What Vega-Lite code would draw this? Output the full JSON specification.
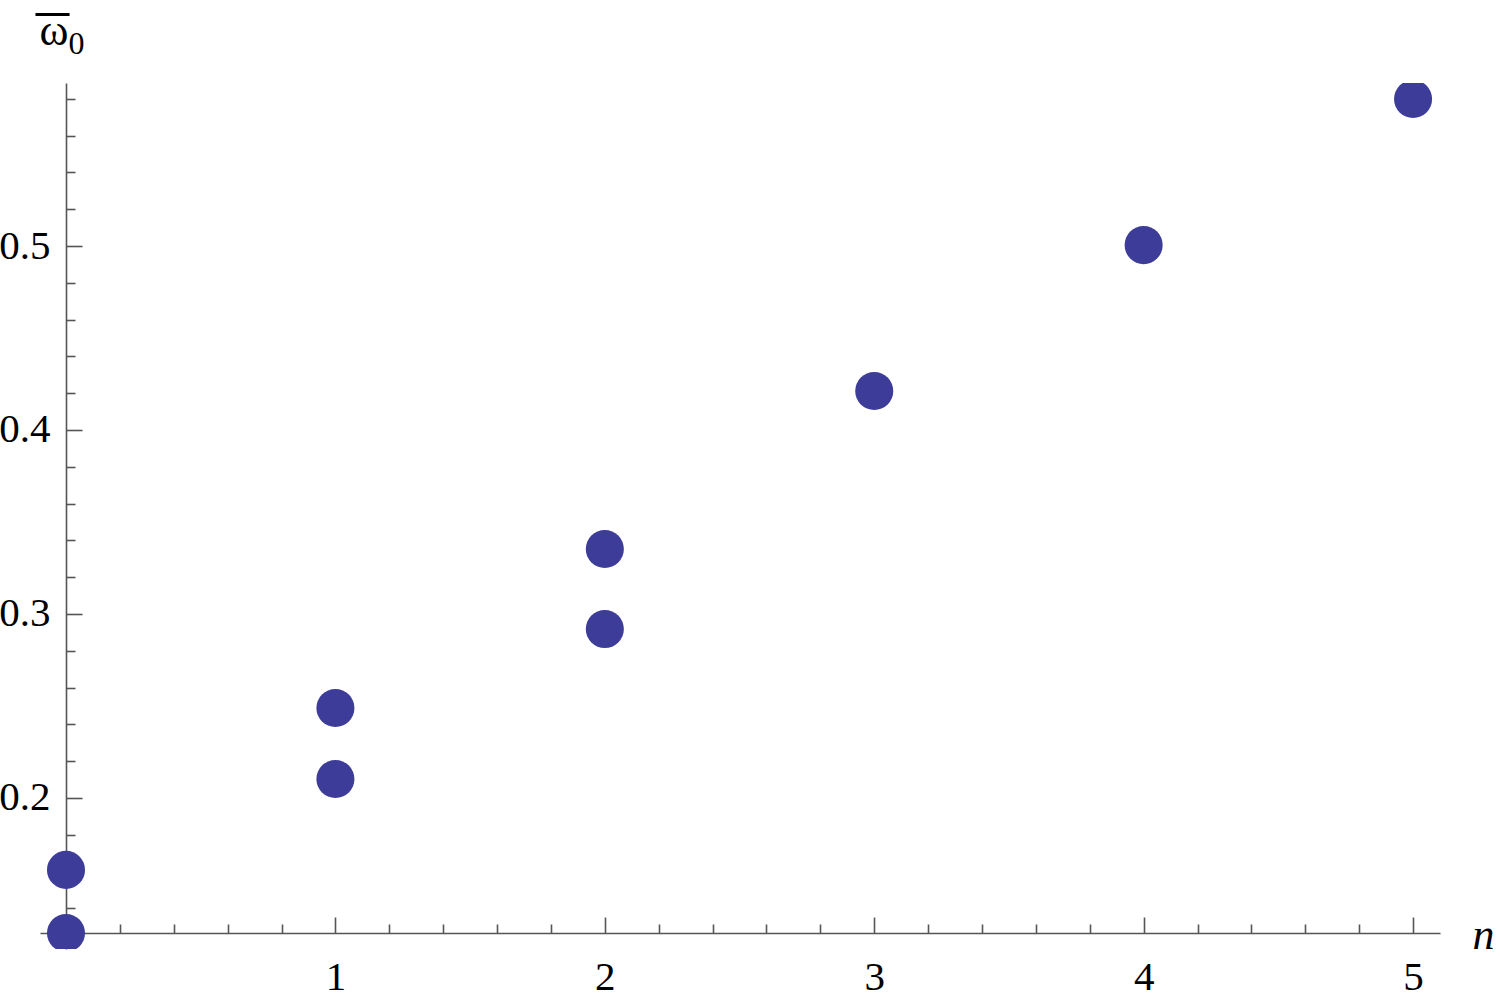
{
  "$schema": "https://vega.github.io/schema/vega-lite/v6.json",
  "width": 1400,
  "height": 866,
  "autosize": {"type": "none"},
  "padding": {"left": 40, "top": 83, "right": 60, "bottom": 51},
  "background": "white",
  "config": {
    "view": {"stroke": null},
    "axis": {
      "grid": false,
      "domainColor": "#555555",
      "tickColor": "#555555",
      "domainWidth": 1.6,
      "tickWidth": 1.6,
      "labelFont": "Liberation Serif",
      "labelFontSize": 41,
      "labelColor": "black",
      "titleFont": "Liberation Serif",
      "titleColor": "black",
      "titleFontWeight": "normal"
    }
  },
  "data": {
    "values": [
      {"n": 0, "w": 0.1266},
      {"n": 0, "w": 0.1609},
      {"n": 1, "w": 0.2103},
      {"n": 1, "w": 0.2489},
      {"n": 2, "w": 0.2918},
      {"n": 2, "w": 0.3353},
      {"n": 3, "w": 0.4212},
      {"n": 4, "w": 0.5005},
      {"n": 5, "w": 0.5799}
    ]
  },
  "layer": [
    {
      "mark": {"type": "point", "filled": true, "size": 1450, "color": "#3d3d99", "opacity": 1, "clip": true},
      "encoding": {
        "x": {
          "field": "n", "type": "quantitative",
          "scale": {"domain": [-0.0965, 5.1], "nice": false, "zero": false},
          "axis": {
            "orient": "bottom", "offset": -16,
            "values": [1, 2, 3, 4, 5], "format": "d",
            "tickSize": -16, "labelPadding": 40,
            "title": "n", "titleFontStyle": "italic", "titleFontSize": 44,
            "titleX": 1432, "titleY": 15, "titleAlign": "left", "titleBaseline": "alphabetic"
          }
        },
        "y": {
          "field": "w", "type": "quantitative",
          "scale": {"domain": [0.1179, 0.5886], "nice": false, "zero": false},
          "axis": {
            "orient": "left", "offset": -26,
            "values": [0.2, 0.3, 0.4, 0.5], "format": ".1f",
            "tickSize": -16, "labelPadding": 32,
            "title": "ω", "titleAngle": 0, "titleFontSize": 44,
            "titleX": -27, "titleY": -39, "titleAlign": "left", "titleBaseline": "alphabetic"
          }
        }
      }
    },
    {
      "mark": {"type": "point", "filled": true, "size": 1450, "color": "#3d3d99", "opacity": 0, "clip": true},
      "encoding": {
        "x": {
          "field": "n", "type": "quantitative",
          "scale": {"domain": [-0.0965, 5.1], "nice": false, "zero": false},
          "axis": {
            "orient": "bottom", "offset": -16, "domain": false, "labels": false,
            "values": [0.2, 0.4, 0.6, 0.8, 1.2, 1.4, 1.6, 1.8, 2.2, 2.4, 2.6, 2.8, 3.2, 3.4, 3.6, 3.8, 4.2, 4.4, 4.6, 4.8],
            "tickSize": -9,
            "title": "¯", "titleFontSize": 66, "titleAngle": 0,
            "titleX": 12, "titleY": -871, "titleAlign": "center", "titleBaseline": "alphabetic"
          }
        },
        "y": {
          "field": "w", "type": "quantitative",
          "scale": {"domain": [0.1179, 0.5886], "nice": false, "zero": false},
          "axis": {
            "orient": "left", "offset": -26, "domain": false, "labels": false,
            "values": [0.12, 0.14, 0.16, 0.18, 0.22, 0.24, 0.26, 0.28, 0.32, 0.34, 0.36, 0.38, 0.42, 0.44, 0.46, 0.48, 0.52, 0.54, 0.56, 0.58],
            "tickSize": -9,
            "title": "0", "titleFontSize": 32, "titleAngle": 0,
            "titleX": 2, "titleY": -30, "titleAlign": "left", "titleBaseline": "alphabetic"
          }
        }
      }
    }
  ],
  "resolve": {"axis": {"x": "independent", "y": "independent"}}
}
